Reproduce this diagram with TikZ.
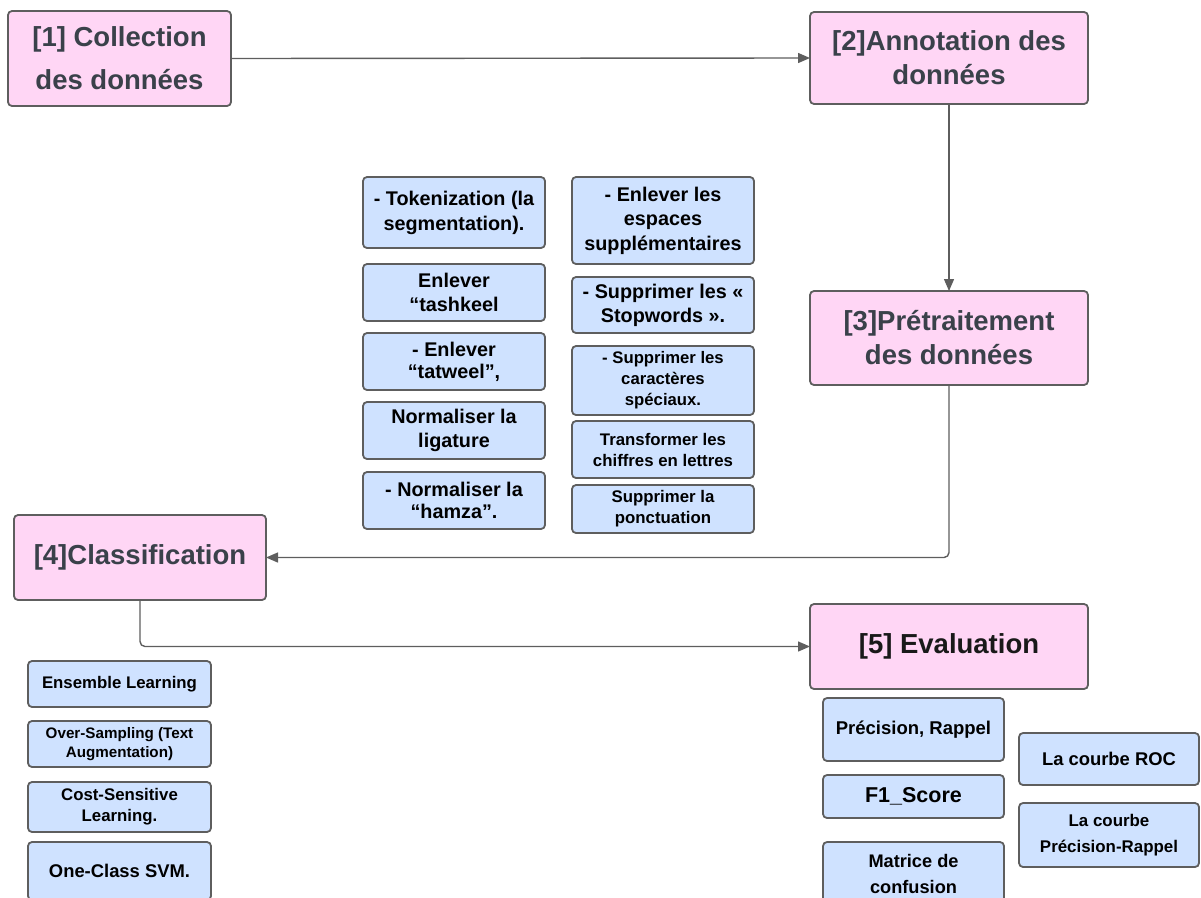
\documentclass[tikz,border=0pt]{standalone}
\usepackage{fontspec}
\setmainfont{Liberation Sans}
\usetikzlibrary{arrows.meta}

\definecolor{edgegray}{HTML}{5E5E5E}
\definecolor{pinkfill}{HTML}{FFD6F5}
\definecolor{bluefill}{HTML}{CFE2FF}
\definecolor{steptext}{HTML}{3A414A}
\definecolor{linkgray}{HTML}{5E5E5E}

\newcommand{\fs}[2]{\fontsize{#1}{#2}\selectfont\bfseries}

\tikzset{
  x=1pt, y=-1pt,
  boxbase/.style={draw=edgegray, line width=1.8pt, rounded corners=4pt,
    align=center, inner sep=0pt, outer sep=0pt},
  stagebox/.style={boxbase, fill=pinkfill, text=steptext},
  taskbox/.style={boxbase, fill=bluefill, text=black},
  link/.style={draw=linkgray, line width=1.4pt, rounded corners=5pt,
    -{Triangle[length=12pt,width=10pt]}},
}

\begin{document}
\begin{tikzpicture}
\path[use as bounding box] (0,0) rectangle (1201,897);
\clip (0,0) rectangle (1201,897);

% main pipeline stages
\node[stagebox, minimum width=223pt, minimum height=95pt, font=\fs{27.5}{43}]
  (collect) at (119.5,58.5) {[1] Collection\\des données};
\node[stagebox, minimum width=278pt, minimum height=92pt, font=\fs{27.5}{34}]
  (annot) at (949,58) {[2]Annotation des\\données};
\node[stagebox, minimum width=278pt, minimum height=94pt, font=\fs{27.5}{34}]
  (prep) at (949,338) {[3]Prétraitement\\des données};
\node[stagebox, minimum width=252pt, minimum height=85pt, font=\fs{27.5}{34}]
  (classif) at (140,557.5) {[4]Classification};
\node[stagebox, minimum width=278pt, minimum height=85pt, font=\fs{27.5}{34}, text=black!90]
  (evalu) at (949,646.5) {[5] Evaluation};

% preprocessing steps, left column
\node[taskbox, minimum width=182pt, minimum height=71pt, font=\fs{19.8}{25}]
  (tok) at (454,212.5) {- Tokenization (la\\segmentation).};
\node[taskbox, minimum width=182pt, minimum height=57pt, font=\fs{19.8}{24}]
  (tashk) at (454,292.5) {Enlever\\“tashkeel};
\node[taskbox, minimum width=182pt, minimum height=57pt, font=\fs{19.8}{22}]
  (tatw) at (454,361.5) {- Enlever\\“tatweel”,};
\node[taskbox, minimum width=182pt, minimum height=57pt, font=\fs{19.8}{24}]
  (lig) at (454,430.5) {Normaliser la\\ligature};
\node[taskbox, minimum width=182pt, minimum height=57pt, font=\fs{19.8}{22}]
  (hamza) at (454,500.5) {- Normaliser la\\“hamza”.};

% preprocessing steps, right column
\node[taskbox, minimum width=182pt, minimum height=87pt, font=\fs{19.8}{24.5}]
  (spaces) at (663,220.5) {- Enlever les\\espaces\\supplémentaires};
\node[taskbox, minimum width=182pt, minimum height=56pt, font=\fs{19.8}{24}]
  (stopw) at (663,305) {- Supprimer les «\\Stopwords ».};
\node[taskbox, minimum width=182pt, minimum height=69pt, font=\fs{16.7}{21}]
  (special) at (663,380.5) {- Supprimer les\\caractères\\spéciaux.};
\node[taskbox, minimum width=182pt, minimum height=57pt, font=\fs{16.8}{21}]
  (digits) at (663,449.5) {Transformer les\\chiffres en lettres};
\node[taskbox, minimum width=182pt, minimum height=48pt, font=\fs{16.8}{21}]
  (punct) at (663,509) {Supprimer la\\ponctuation};

% classification methods
\node[taskbox, minimum width=183pt, minimum height=46pt, font=\fs{16.8}{21}]
  (ensemble) at (119.5,684) {Ensemble Learning};
\node[taskbox, minimum width=183pt, minimum height=46pt, font=\fs{15.2}{19}]
  (oversamp) at (119.5,744) {Over-Sampling (Text\\Augmentation)};
\node[taskbox, minimum width=183pt, minimum height=50pt, font=\fs{16.8}{21}]
  (costsens) at (119.5,807) {Cost-Sensitive\\Learning.};
\node[taskbox, minimum width=183pt, minimum height=58pt, font=\fs{18.4}{22}]
  (ocsvm) at (119.5,871) {One-Class SVM.};

% evaluation metrics
\node[taskbox, minimum width=181pt, minimum height=63pt, font=\fs{18.5}{22}]
  (precrec) at (913.5,729.5) {Précision, Rappel};
\node[taskbox, minimum width=181pt, minimum height=43pt, font=\fs{21.5}{24}]
  (fscore) at (913.5,796.5) {F1\_Score};
\node[taskbox, minimum width=181pt, minimum height=64pt, font=\fs{18.2}{26}]
  (confmat) at (913.5,874) {Matrice de\\confusion};
\node[taskbox, minimum width=180pt, minimum height=52pt, font=\fs{18.4}{22}]
  (roc) at (1109,759) {La courbe ROC};
\node[taskbox, minimum width=180pt, minimum height=64pt, font=\fs{16.9}{26}]
  (prcurve) at (1109,835) {La courbe\\Précision-Rappel};

% pipeline connectors
\draw[link] (collect.east) -- (annot.west);
\draw[link] (annot.south) -- (prep.north);
\draw[link] (prep.south) |- (classif.east);
\draw[link] (classif.south) |- (evalu.west);
\end{tikzpicture}
\end{document}
